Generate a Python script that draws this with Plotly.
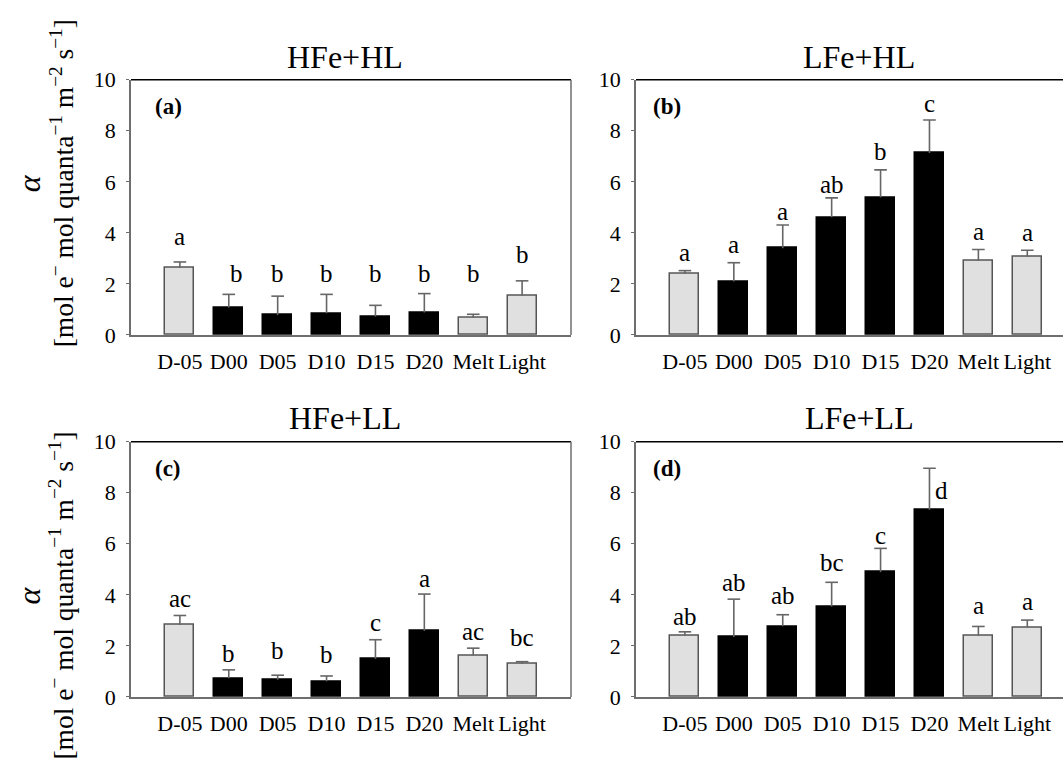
import plotly.graph_objects as go

# ---- data ----
categories = ["D-05", "D00", "D05", "D10", "D15", "D20", "Melt", "Light"]
bar_colors = ["#e0e0e0", "black", "black", "black", "black", "black", "#e0e0e0", "#e0e0e0"]
edge_colors = ["#555555", "black", "black", "black", "black", "black", "#555555", "#555555"]

panel_titles = ["HFe+HL", "LFe+HL", "HFe+LL", "LFe+LL"]
panel_tags = ["(a)", "(b)", "(c)", "(d)"]

hfe_hl_mean = [2.63, 1.07, 0.78, 0.85, 0.72, 0.88, 0.67, 1.55]
hfe_hl_err = [0.23, 0.52, 0.74, 0.74, 0.44, 0.74, 0.14, 0.57]
hfe_hl_letters = ["a", "b", "b", "b", "b", "b", "b", "b"]
hfe_hl_letter_y = [3.87, 2.41, 2.41, 2.41, 2.41, 2.41, 2.41, 3.17]

lfe_hl_mean = [2.40, 2.09, 3.40, 4.61, 5.39, 7.13, 2.90, 3.07]
lfe_hl_err = [0.12, 0.74, 0.91, 0.76, 1.08, 1.29, 0.45, 0.25]
lfe_hl_letters = ["a", "a", "a", "ab", "b", "c", "a", "a"]
lfe_hl_letter_y = [3.24, 3.55, 4.82, 5.89, 7.19, 9.08, 4.06, 4.00]

hfe_ll_mean = [2.82, 0.73, 0.67, 0.61, 1.49, 2.59, 1.63, 1.30]
hfe_ll_err = [0.37, 0.33, 0.18, 0.21, 0.75, 1.44, 0.28, 0.08]
hfe_ll_letters = ["ac", "b", "b", "b", "c", "a", "ac", "bc"]
hfe_ll_letter_y = [3.86, 1.71, 1.81, 1.68, 2.92, 4.65, 2.57, 2.31]

lfe_ll_mean = [2.40, 2.35, 2.77, 3.54, 4.89, 7.33, 2.40, 2.73]
lfe_ll_err = [0.15, 1.48, 0.45, 0.95, 0.93, 1.63, 0.36, 0.28]
lfe_ll_letters = ["ab", "ab", "ab", "bc", "c", "d", "a", "a"]
lfe_ll_letter_y = [3.16, 4.49, 3.98, 5.25, 6.32, 8.10, 3.58, 3.73]

y_ticks = [0, 2, 4, 6, 8, 10]

# ---- layout geometry ----
W, H = 1063, 776
FONT = "Liberation Serif, Times New Roman, serif"
AXIS_GREY = "#6e6e6e"
ERR_GREY = "#666666"

x_left = [131 / W, 571 / W]
x_right = [636 / W, 1.0]
y_top = [1 - 333.7 / H, 1 - 70 / H]
y_bot = [1 - 707.7 / H, 1 - 444 / H]

panels = [
    dict(mean=hfe_hl_mean, err=hfe_hl_err, let=hfe_hl_letters, ly=hfe_hl_letter_y,
         xd=x_left, yd=y_top, xr=[-1, 8], tag_dx=22, title_x=345, title_y=47),
    dict(mean=lfe_hl_mean, err=lfe_hl_err, let=lfe_hl_letters, ly=lfe_hl_letter_y,
         xd=x_right, yd=y_top, xr=[-1, 7.73], tag_dx=15, title_x=859, title_y=47),
    dict(mean=hfe_ll_mean, err=hfe_ll_err, let=hfe_ll_letters, ly=hfe_ll_letter_y,
         xd=x_left, yd=y_bot, xr=[-1, 8], tag_dx=22, title_x=345, title_y=420),
    dict(mean=lfe_ll_mean, err=lfe_ll_err, let=lfe_ll_letters, ly=lfe_ll_letter_y,
         xd=x_right, yd=y_bot, xr=[-1, 7.73], tag_dx=15, title_x=859, title_y=420),
]

# letters that sit beside their error bar rather than above it
letter_dx = {(3, 5): 0.25, (0, 1): 0.15}

fig = go.Figure()
annotations = []
shapes = []
xpos = list(range(len(categories)))

for i, p in enumerate(panels):
    n = "" if i == 0 else str(i + 1)
    xa, ya = "x" + n, "y" + n
    fig.add_trace(go.Bar(
        x=xpos, y=p["mean"], width=0.59, xaxis=xa, yaxis=ya,
        marker=dict(color=bar_colors, line=dict(color=edge_colors, width=1.5)),
        showlegend=False, hoverinfo="skip",
    ))
    # upper error whiskers: stem from the bar top, cap only at the upper end
    tops = [m + e for m, e in zip(p["mean"], p["err"])]
    fig.add_trace(go.Scatter(
        x=xpos, y=tops, xaxis=xa, yaxis=ya, mode="markers",
        marker=dict(symbol="line-ew-open", size=9, color=ERR_GREY,
                    line=dict(color=ERR_GREY, width=1.6)),
        error_y=dict(type="data", symmetric=False, array=[0] * len(categories),
                     arrayminus=p["err"], color=ERR_GREY, thickness=1.6, width=0),
        showlegend=False, hoverinfo="skip",
    ))
    fig.layout["xaxis" + n] = dict(
        domain=p["xd"], anchor=ya, range=p["xr"], tickvals=xpos, ticktext=categories,
        showline=True, linecolor=AXIS_GREY, linewidth=1.5, ticks="",
        showgrid=False, zeroline=False, ticklabelstandoff=6,
        tickfont=dict(family=FONT, size=22, color="black"),
    )
    fig.layout["yaxis" + n] = dict(
        domain=p["yd"], anchor=xa, range=[0, 10], tickvals=y_ticks,
        showline=True, linecolor=AXIS_GREY, linewidth=1.5,
        ticks="outside", ticklen=3, tickcolor=AXIS_GREY, tickwidth=1.2,
        showgrid=False, zeroline=False, ticklabelstandoff=6,
        tickfont=dict(family=FONT, size=22, color="black"),
    )
    # top border (black) and right border (grey, left-column panels only)
    shapes.append(dict(type="line", xref=xa + " domain", yref=ya + " domain",
                       x0=0, x1=1, y0=1, y1=1, line=dict(color="black", width=1.5)))
    if p["xd"][1] < 1:
        shapes.append(dict(type="line", xref=xa + " domain", yref=ya + " domain",
                           x0=1, x1=1, y0=0, y1=1, line=dict(color=AXIS_GREY, width=1.5)))
    # significance letters
    for j, (txt, yy) in enumerate(zip(p["let"], p["ly"])):
        annotations.append(dict(
            x=xpos[j] + letter_dx.get((i, j), 0), y=yy, xref=xa, yref=ya,
            text=txt, showarrow=False, xanchor="center", yanchor="middle",
            font=dict(family=FONT, size=25, color="black"),
        ))
    # panel tag
    dom_w = (p["xd"][1] - p["xd"][0]) * W
    annotations.append(dict(
        x=p["tag_dx"] / dom_w, y=1 - 28 / 264, xref=xa + " domain", yref=ya + " domain",
        text="<b>" + panel_tags[i] + "</b>", showarrow=False,
        xanchor="left", yanchor="middle",
        font=dict(family=FONT, size=23, color="black"),
    ))
    # panel title
    annotations.append(dict(
        x=p["title_x"] / W, y=1 - p["title_y"] / H, xref="paper", yref="paper",
        text=panel_titles[i], showarrow=False, xanchor="center", yanchor="middle",
        font=dict(family=FONT, size=32, color="black"),
    ))

# y-axis titles for each row
unit_text = "[mol e<sup>−</sup> mol quanta<sup>−1</sup> m<sup>−2</sup> s<sup>−1</sup>]"
for yc in (177, 603):
    annotations.append(dict(
        x=29 / W, y=1 - yc / H, xref="paper", yref="paper", text="<i>α</i>",
        showarrow=False, textangle=-90, xanchor="center", yanchor="middle",
        font=dict(family=FONT, size=32, color="black"),
    ))
    annotations.append(dict(
        x=62 / W, y=1 - yc / H, xref="paper", yref="paper", text=unit_text,
        showarrow=False, textangle=-90, xanchor="center", yanchor="middle",
        font=dict(family=FONT, size=27.5, color="black"),
    ))

fig.update_layout(
    width=W, height=H, margin=dict(l=0, r=0, t=0, b=0),
    paper_bgcolor="white", plot_bgcolor="white",
    annotations=annotations, shapes=shapes, bargap=0,
)

fig.write_html("out.html")
